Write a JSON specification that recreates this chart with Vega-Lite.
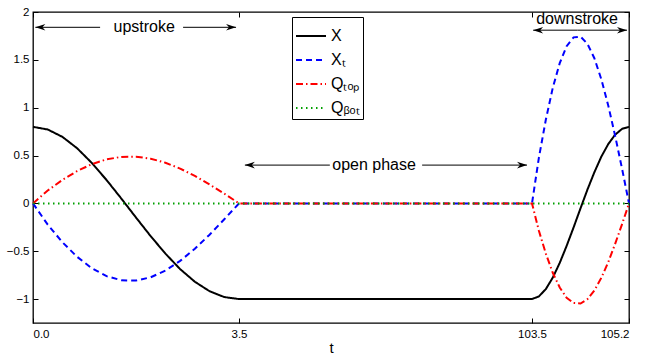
{
  "$schema": "https://vega.github.io/schema/vega-lite/v6.json",
  "width": 596,
  "height": 311,
  "autosize": "none",
  "padding": {"left": 33, "top": 12, "right": 17, "bottom": 34},
  "background": "white",
  "config": {
    "font": "Liberation Sans",
    "view": {"stroke": "black", "strokeWidth": 1.3},
    "axis": {
      "domain": false, "grid": false, "tickColor": "black", "tickSize": -5, "tickWidth": 1,
      "labelColor": "black", "labelFontSize": 11.5, "labelFont": "Liberation Sans", "labelOverlap": false,
      "titleFont": "Liberation Sans", "titleFontSize": 15, "titleFontWeight": "normal", "titleColor": "black"
    },
    "legend": {
      "orient": "none", "legendX": 259, "legendY": 5, "strokeColor": "black", "fillColor": "white",
      "padding": 3, "labelFontSize": 16, "labelFont": "Liberation Sans", "labelColor": "black",
      "symbolType": "stroke", "symbolSize": 900, "symbolStrokeWidth": 2, "rowPadding": -4, "labelOffset": 4
    }
  },
  "datasets": {
    "curves": [
      {"t": 0, "X": 0.8, "Xt": 0, "Qtop": 0, "Qbot": 0},
      {"t": 0.25, "X": 0.772, "Xt": -0.222, "Qtop": 0.134, "Qbot": 0},
      {"t": 0.5, "X": 0.695, "Xt": -0.406, "Qtop": 0.245, "Qbot": 0},
      {"t": 0.75, "X": 0.576, "Xt": -0.559, "Qtop": 0.338, "Qbot": 0},
      {"t": 1, "X": 0.422, "Xt": -0.678, "Qtop": 0.41, "Qbot": 0},
      {"t": 1.25, "X": 0.244, "Xt": -0.76, "Qtop": 0.46, "Qbot": 0},
      {"t": 1.5, "X": 0.051, "Xt": -0.803, "Qtop": 0.486, "Qbot": 0},
      {"t": 1.75, "X": -0.148, "Xt": -0.807, "Qtop": 0.488, "Qbot": 0},
      {"t": 2, "X": -0.343, "Xt": -0.772, "Qtop": 0.467, "Qbot": 0},
      {"t": 2.25, "X": -0.525, "Xt": -0.702, "Qtop": 0.425, "Qbot": 0},
      {"t": 2.5, "X": -0.687, "Xt": -0.601, "Qtop": 0.364, "Qbot": 0},
      {"t": 2.75, "X": -0.819, "Xt": -0.474, "Qtop": 0.287, "Qbot": 0},
      {"t": 3, "X": -0.918, "Xt": -0.327, "Qtop": 0.198, "Qbot": 0},
      {"t": 3.25, "X": -0.979, "Xt": -0.166, "Qtop": 0.101, "Qbot": 0},
      {"t": 3.5, "X": -1, "Xt": 0, "Qtop": 0, "Qbot": 0},
      {"t": 103.5, "X": -1, "Xt": 0, "Qtop": 0, "Qbot": 0},
      {"t": 103.621, "X": -0.972, "Xt": 0.479, "Qtop": -0.287, "Qbot": 0},
      {"t": 103.743, "X": -0.895, "Xt": 0.876, "Qtop": -0.526, "Qbot": 0},
      {"t": 103.864, "X": -0.776, "Xt": 1.208, "Qtop": -0.725, "Qbot": 0},
      {"t": 103.986, "X": -0.622, "Xt": 1.465, "Qtop": -0.879, "Qbot": 0},
      {"t": 104.107, "X": -0.444, "Xt": 1.643, "Qtop": -0.986, "Qbot": 0},
      {"t": 104.229, "X": -0.251, "Xt": 1.735, "Qtop": -1.041, "Qbot": 0},
      {"t": 104.35, "X": -0.052, "Xt": 1.743, "Qtop": -1.046, "Qbot": 0},
      {"t": 104.471, "X": 0.143, "Xt": 1.668, "Qtop": -1.001, "Qbot": 0},
      {"t": 104.593, "X": 0.325, "Xt": 1.517, "Qtop": -0.91, "Qbot": 0},
      {"t": 104.714, "X": 0.487, "Xt": 1.299, "Qtop": -0.779, "Qbot": 0},
      {"t": 104.836, "X": 0.619, "Xt": 1.024, "Qtop": -0.615, "Qbot": 0},
      {"t": 104.957, "X": 0.718, "Xt": 0.706, "Qtop": -0.423, "Qbot": 0},
      {"t": 105.079, "X": 0.779, "Xt": 0.36, "Qtop": -0.216, "Qbot": 0},
      {"t": 105.2, "X": 0.8, "Xt": 0, "Qtop": 0, "Qbot": 0}
    ],
    "arrows": [
      {"label": "upstroke", "start": 0.04, "end": 3.45, "gapStart": 1.14, "gapEnd": 2.55, "y": 1.84, "textT": 1.89, "textY": 1.84},
      {"label": "open phase", "start": 5.5, "end": 101.8, "gapStart": 34.5, "gapEnd": 66, "y": 0.4, "textT": 49.6, "textY": 0.4},
      {"label": "downstroke", "start": 103.52, "end": 105.165, "gapStart": 104.3, "gapEnd": 104.3, "y": 1.81, "textT": 104.29, "textY": 1.925}
    ]
  },
  "layer": [
    {
      "data": {"name": "curves"},
      "transform": [{"fold": ["X", "Xt", "Qtop", "Qbot"], "as": ["series", "value"]}],
      "mark": {"type": "line", "strokeWidth": 2},
      "encoding": {
        "x": {"field": "t", "type": "quantitative",
              "scale": {"domain": [0, 3.5, 103.5, 105.2], "range": [0, 206, 499, 596], "nice": false, "zero": false},
              "axis": {"orient": "bottom", "values": [0, 3.5, 103.5, 105.2], "format": ".1f", "title": "t", "labelPadding": 10, "titlePadding": 1}},
        "y": {"field": "value", "type": "quantitative",
              "scale": {"domain": [-1.25, 2], "nice": false, "zero": false},
              "axis": {"orient": "left", "values": [-1, -0.5, 0, 0.5, 1, 1.5, 2], "format": "~g", "title": null, "labelPadding": 9}},
        "color": {"field": "series", "type": "nominal",
                  "scale": {"domain": ["X", "Xt", "Qtop", "Qbot"], "range": ["#000000", "#0000ff", "#ff0000", "#00a000"]},
                  "legend": {"title": null, "labelExpr": "datum.label == 'Xt' ? 'Xₜ' : datum.label == 'Qtop' ? 'Qₜₒₚ' : datum.label == 'Qbot' ? 'Qᵦₒₜ' : datum.label"}},
        "strokeDash": {"field": "series", "type": "nominal",
                  "scale": {"domain": ["X", "Xt", "Qtop", "Qbot"], "range": [[1, 0], [6, 4], [7, 3, 1.5, 3], [1.5, 3.5]]},
                  "legend": {"title": null, "labelExpr": "datum.label == 'Xt' ? 'Xₜ' : datum.label == 'Qtop' ? 'Qₜₒₚ' : datum.label == 'Qbot' ? 'Qᵦₒₜ' : datum.label"}}
      }
    },
    {
      "data": {"name": "arrows"},
      "mark": {"type": "rule", "color": "black", "strokeWidth": 1},
      "encoding": {
        "x": {"field": "start", "type": "quantitative",
              "scale": {"domain": [0, 3.5, 103.5, 105.2], "range": [0, 206, 499, 596], "nice": false, "zero": false},
              "axis": {"orient": "top", "values": [0, 3.5, 103.5, 105.2], "labels": false, "title": null}},
        "x2": {"field": "gapStart"},
        "y": {"field": "y", "type": "quantitative",
              "scale": {"domain": [-1.25, 2], "nice": false, "zero": false},
              "axis": {"orient": "right", "values": [-1, -0.5, 0, 0.5, 1, 1.5, 2], "labels": false, "title": null}}
      }
    },
    {
      "data": {"name": "arrows"},
      "mark": {"type": "rule", "color": "black", "strokeWidth": 1},
      "encoding": {
        "x": {"field": "gapEnd", "type": "quantitative", "axis": null},
        "x2": {"field": "end"},
        "y": {"field": "y", "type": "quantitative", "axis": null}
      }
    },
    {
      "data": {"name": "arrows"},
      "mark": {"type": "point", "shape": "M0,0L1,-0.33L0.7,0L1,0.33Z", "size": 400, "filled": true, "color": "black", "opacity": 1, "strokeWidth": 0},
      "encoding": {
        "x": {"field": "start", "type": "quantitative", "axis": null},
        "y": {"field": "y", "type": "quantitative", "axis": null}
      }
    },
    {
      "data": {"name": "arrows"},
      "mark": {"type": "point", "shape": "M0,0L-1,-0.33L-0.7,0L-1,0.33Z", "size": 400, "filled": true, "color": "black", "opacity": 1, "strokeWidth": 0},
      "encoding": {
        "x": {"field": "end", "type": "quantitative", "axis": null},
        "y": {"field": "y", "type": "quantitative", "axis": null}
      }
    },
    {
      "data": {"name": "arrows"},
      "mark": {"type": "text", "fontSize": 16, "font": "Liberation Sans", "color": "black", "align": "center", "baseline": "middle"},
      "encoding": {
        "x": {"field": "textT", "type": "quantitative", "axis": null},
        "y": {"field": "textY", "type": "quantitative", "axis": null},
        "text": {"field": "label"}
      }
    }
  ],
  "resolve": {"axis": {"x": "independent", "y": "independent"}}
}
